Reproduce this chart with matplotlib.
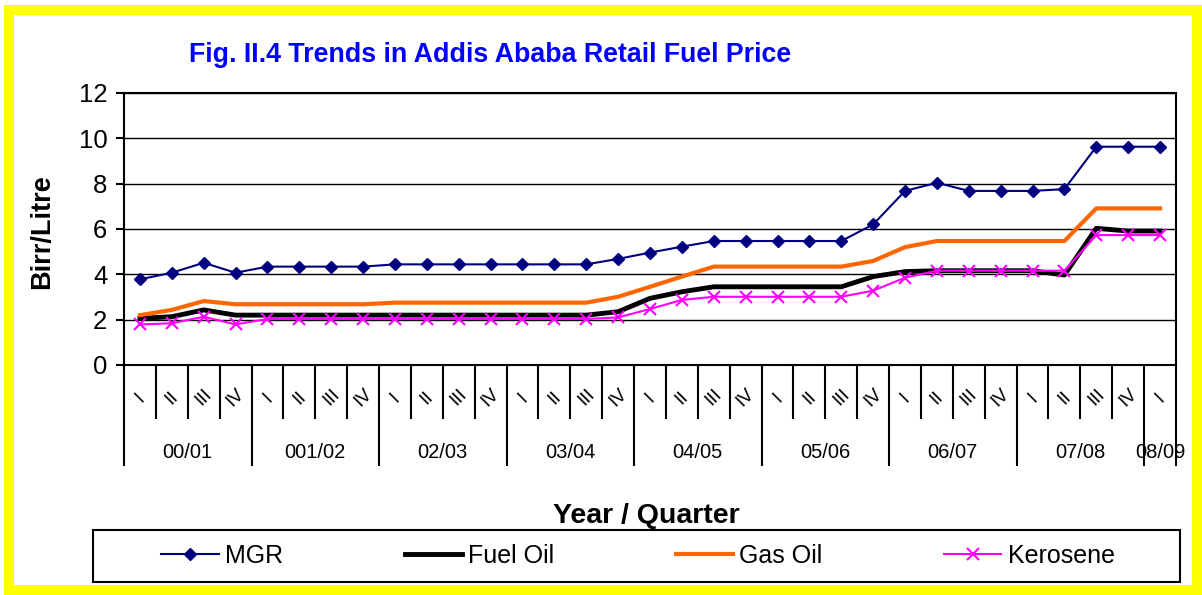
import numpy as np
import matplotlib
matplotlib.use("Agg")
import matplotlib.pyplot as plt
from matplotlib.patches import Rectangle

plt.rcParams['font.family'] = ['Liberation Sans', 'DejaVu Sans']

# Data
quarters = ["I", "II", "III", "IV"] * 8 + ["I"]
years = ["00/01", "001/02", "02/03", "03/04", "04/05", "05/06", "06/07", "07/08", "08/09"]
year_len = [4, 4, 4, 4, 4, 4, 4, 4, 1]

mgr = [3.78, 4.07, 4.51, 4.07, 4.34, 4.34, 4.34, 4.34,
       4.44, 4.44, 4.44, 4.44, 4.44, 4.44, 4.44, 4.68,
       4.96, 5.22, 5.47, 5.47, 5.47, 5.47, 5.47, 6.2,
       7.68, 8.04, 7.68, 7.68, 7.68, 7.76, 9.63, 9.63, 9.63]
fuel_oil = [2.06, 2.13, 2.43, 2.2, 2.2, 2.2, 2.2, 2.2,
            2.2, 2.2, 2.2, 2.2, 2.2, 2.2, 2.2, 2.35,
            2.94, 3.23, 3.45, 3.45, 3.45, 3.45, 3.45, 3.9,
            4.12, 4.16, 4.16, 4.16, 4.16, 3.97, 6.03, 5.91, 5.91]
gas_oil = [2.2, 2.43, 2.82, 2.68, 2.68, 2.68, 2.68, 2.68,
           2.75, 2.75, 2.75, 2.75, 2.75, 2.75, 2.75, 3.01,
           3.45, 3.9, 4.34, 4.34, 4.34, 4.34, 4.34, 4.59,
           5.2, 5.47, 5.47, 5.47, 5.47, 5.47, 6.91, 6.91, 6.91]
kerosene = [1.79, 1.84, 2.13, 1.79, 2.03, 2.03, 2.03, 2.03,
            2.03, 2.03, 2.03, 2.03, 2.03, 2.03, 2.03, 2.1,
            2.47, 2.87, 3.01, 3.01, 3.01, 3.01, 3.01, 3.28,
            3.85, 4.16, 4.16, 4.16, 4.16, 4.16, 5.73, 5.73, 5.73]

W, H = 1202, 595
fig = plt.figure(figsize=(W / 100, H / 100), dpi=100)
ax = fig.add_axes([124 / W, 1 - 365 / H, (1176 - 124) / W, (365 - 93) / H])

x = np.arange(len(quarters))
ax.plot(x, mgr, color='#000080', lw=1.5, marker='D', ms=6.5, label='MGR')
ax.plot(x, fuel_oil, color='black', lw=3.5, label='Fuel Oil')
ax.plot(x, gas_oil, color='#FF6600', lw=3, label='Gas Oil')
ax.plot(x, kerosene, color='#FF00FF', lw=1.5, marker='x', ms=9, mew=1.5, label='Kerosene')

ax.set_xlim(-0.5, len(quarters) - 0.5)
ax.set_ylim(0, 12)
ax.set_yticks(range(0, 13, 2))
ax.yaxis.grid(True, color='black', lw=1)
ax.set_axisbelow(True)
for s in ax.spines.values():
    s.set_linewidth(1.5)
ax.tick_params(axis='y', labelsize=18.5, length=6, width=1.5, pad=6)

# category axis: quarter and year separators
bounds = np.cumsum([0] + year_len) - 0.5
ax.set_xticks(bounds)
ax.set_xticks([b for b in x[:-1] + 0.5 if b not in bounds], minor=True)
ax.tick_params(axis='x', which='major', length=73, width=1.5, labelbottom=False)
ax.tick_params(axis='x', which='minor', length=39, width=1.5, labelbottom=False)

tr = ax.get_xaxis_transform()
for i, q in enumerate(quarters):
    ax.text(i, -0.12, q, transform=tr, rotation=45, ha='center', va='center',
            fontsize=13.5)
for j, yr in enumerate(years):
    ax.text((bounds[j] + bounds[j + 1]) / 2, -0.32, yr, transform=tr,
            ha='center', va='center', fontsize=14.5)

fig.text(490 / W, 1 - 55 / H, 'Fig. II.4 Trends in Addis Ababa Retail Fuel Price',
         color='#0000FF', fontsize=19.3, fontweight='bold', ha='center', va='center')
fig.text(42 / W, 1 - 232 / H, 'Birr/Litre', rotation=90, fontsize=19.5,
         fontweight='bold', ha='center', va='center')
fig.text(646 / W, 1 - 516 / H, 'Year / Quarter', fontsize=20.5,
         fontweight='bold', ha='center', va='center')

# legend box
fig.patches.append(Rectangle((93 / W, 1 - 582 / H), 1087 / W, 52 / H,
                             transform=fig.transFigure, fill=False,
                             edgecolor='black', lw=1.5))
fig.legend(loc='center', bbox_to_anchor=(638 / W, 1 - 556 / H), ncol=4,
           frameon=False, fontsize=18, handlelength=2.3, handletextpad=0.25,
           columnspacing=4.85)

# yellow border
fig.patches.append(Rectangle((9 / W, 1 - 590 / H), 1188 / W, 580 / H,
                             transform=fig.transFigure, fill=False,
                             edgecolor='#FFFF00', lw=7.2))

fig.savefig('out.png', dpi=100, facecolor='white')
